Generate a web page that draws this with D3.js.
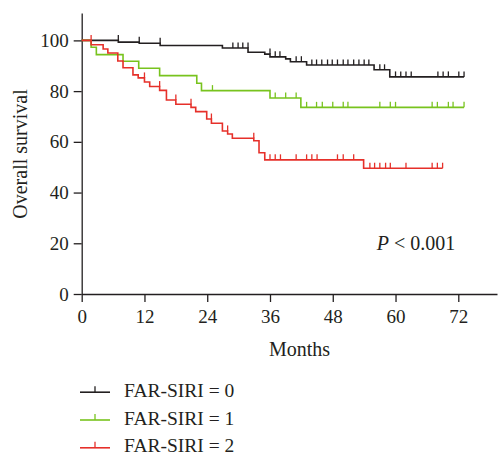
<!DOCTYPE html>
<html>
<head>
<meta charset="utf-8">
<script src="https://cdnjs.cloudflare.com/ajax/libs/d3/7.8.5/d3.min.js"></script>
<style>
  body { margin: 0; background: #fff; }
  text { font-family: "Liberation Serif", "Times New Roman", serif; fill: #231f20; }
</style>
</head>
<body>
<div id="chart"></div>
<script>
      // km steps: event times (months) and survival (%) after each drop
      var timesG0 = [7.0, 11.0, 15.0, 26.9, 31.8, 35.0, 36.0, 39.0, 39.9, 43.0, 55.9, 58.9],
          survG0 = [99.3, 98.9, 98.0, 97.0, 95.3, 94.6, 93.5, 92.7, 91.6, 90.3, 88.4, 85.6],
          censorG0 = [7.0, 11.0, 15.0, 28.9, 29.9, 30.8, 31.8, 36.0, 37.0, 37.9, 41.0, 42.0, 44.0, 44.9, 45.9, 47.0,
                      47.9, 48.9, 50.0, 50.9, 52.0, 53.0, 54.0, 54.9, 57.0, 57.9, 60.0, 61.0, 62.0, 63.0, 68.1,
                      69.1, 70.1, 72.1, 73.1];

      var timesG1 = [1.8, 2.8, 7.9, 10.9, 14.9, 22.0, 22.9, 36.0, 41.9],
          survG1 = [97.3, 94.4, 91.8, 89.0, 86.1, 83.1, 80.2, 77.3, 73.6],
          censorG1 = [25.0, 37.0, 39.0, 41.0, 43.0, 44.9, 46.0, 48.0, 50.0, 50.9, 57.0, 59.0, 60.0, 67.0, 68.0,
                      70.1, 71.0, 73.1];

      var timesG2 = [1.8, 4.1, 5.0, 6.9, 7.9, 9.8, 10.8, 12.0, 13.0, 14.9, 16.2, 18.0, 20.9, 21.8, 23.9, 24.8,
                     26.9, 27.9, 28.8, 32.9, 33.9, 35.0, 53.9],
          survG2 = [98.3, 96.6, 95.0, 91.9, 89.2, 86.4, 85.2, 83.6, 81.8, 80.3, 76.5, 74.8, 73.6, 71.9, 69.0, 67.3,
                    64.3, 63.1, 61.4, 60.4, 55.7, 52.9, 49.6],
          censorG2 = [1.8, 12.0, 14.9, 18.0, 20.9, 24.8, 27.9, 32.9, 36.0, 37.0, 38.0, 41.0, 43.0, 44.0, 45.0, 48.9,
                      50.0, 52.0, 55.1, 56.0, 57.0, 58.1, 59.0, 62.0, 67.0, 68.0, 69.0];

      var groups = ["FAR-SIRI = 0", "FAR-SIRI = 1", "FAR-SIRI = 2"],
          colors = ["#231f20", "#78c31e", "#e6302a"],
          xTicks = [0, 12, 24, 36, 48, 60, 72],
          yTicks = [0, 20, 40, 60, 80, 100];

      var series = [
        { name: groups[0], times: timesG0, surv: survG0, censor: censorG0 },
        { name: groups[1], times: timesG1, surv: survG1, censor: censorG1 },
        { name: groups[2], times: timesG2, surv: survG2, censor: censorG2 }
      ];

      var width = 500, height = 455;

      var svg = d3.select("#chart").append("svg")
          .attr("width", width)
          .attr("height", height);

      var x = d3.scaleLinear().domain([0, 79.4]).range([81.7, 497]),
          y = d3.scaleLinear().domain([0, 110.8]).range([294, 13]);

      // axes
      var xAxis = svg.append("g")
          .attr("transform", "translate(0,294)")
          .call(d3.axisBottom(x).tickValues(xTicks).tickSize(8).tickSizeOuter(0).tickPadding(8));

      var yAxis = svg.append("g")
          .attr("transform", "translate(81.7,0)")
          .call(d3.axisLeft(y).tickValues(yTicks).tickSize(8).tickSizeOuter(0).tickPadding(5));

      svg.selectAll(".domain, .tick line")
          .attr("stroke", "#231f20")
          .attr("stroke-width", 1.3);

      svg.selectAll(".tick text")
          .style("font-family", "'Liberation Serif', serif")
          .style("font-size", "19px")
          .attr("fill", "#231f20");

      svg.append("text") //x label
          .attr("x", 299.5)
          .attr("y", 356)
          .style("text-anchor", "middle")
          .style("font-size", "20px")
          .text("Months");

      svg.append("text") //y label
          .attr("transform", "translate(26.5,154) rotate(-90)")
          .style("text-anchor", "middle")
          .style("font-size", "20px")
          .text("Overall survival");

      var pText = svg.append("text")
          .attr("x", 376.7)
          .attr("y", 250)
          .style("font-size", "20px");
      pText.append("tspan").style("font-style", "italic").text("P");
      pText.append("tspan").text(" < 0.001");

      // step curves, start at 100% and run on to the last censored time
      var line = d3.line()
          .x(function(d) { return x(d[0]); })
          .y(function(d) { return y(d[1]); })
          .curve(d3.curveStepAfter);

      // survival just before time t
      function survAt(s, t) {
        var v = 100;
        s.times.forEach(function(tt, i) { if (tt < t) v = s.surv[i]; });
        return v;
      }

      series.forEach(function(s, k) {
        var pts = [[0, 100]];
        s.times.forEach(function(t, i) { pts.push([t, s.surv[i]]); });
        var last = d3.max(s.censor.concat(s.times));
        pts.push([last, s.surv[s.surv.length - 1]]);

        var g = svg.append("g");

        g.append("path")
            .datum(pts)
            .attr("d", line)
            .attr("fill", "none")
            .attr("stroke", colors[k])
            .attr("stroke-width", 1.6);

        g.selectAll(".cens")
            .data(s.censor)
            .enter().append("line")
              .attr("x1", function(d) { return x(d); })
              .attr("x2", function(d) { return x(d); })
              .attr("y1", function(d) { return y(survAt(s, d)); })
              .attr("y2", function(d) { return y(survAt(s, d)) - 5.5; })
              .attr("stroke", colors[k])
              .attr("stroke-width", 1.3);
      });

      // legend
      var legend = svg.selectAll(".legend")
          .data(groups)
          .enter().append("g")
            .attr("transform", function(d, i) { return "translate(0," + (396.7 + i * 27.8) + ")"; });

      legend.append("line")
          .attr("x1", 80).attr("x2", 110)
          .attr("y1", -4.5).attr("y2", -4.5)
          .attr("stroke", function(d, i) { return colors[i]; })
          .attr("stroke-width", 1.6);

      legend.append("line")
          .attr("x1", 95).attr("x2", 95)
          .attr("y1", -4.5).attr("y2", -10.5)
          .attr("stroke", function(d, i) { return colors[i]; })
          .attr("stroke-width", 1.3);

      legend.append("text")
          .attr("x", 124)
          .attr("y", 0)
          .style("font-size", "19.5px")
          .text(function(d) { return d; });
</script>
</body>
</html>
